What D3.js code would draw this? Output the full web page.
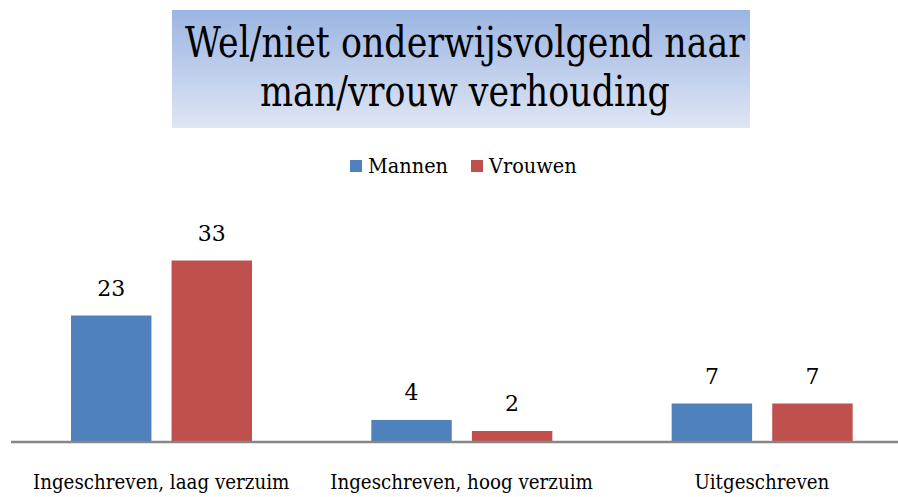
<!DOCTYPE html>
<html>
<head>
<meta charset="utf-8">
<script src="https://cdn.jsdelivr.net/npm/d3@7/dist/d3.min.js"></script>
<style>
  body { margin: 0; background: #fff; }
  svg { display: block; }
</style>
</head>
<body>
<svg id="chart" width="898" height="497"></svg>
<script>
var categories = ["Ingeschreven, laag verzuim", "Ingeschreven, hoog verzuim", "Uitgeschreven"];
var seriesNames = ["Mannen", "Vrouwen"];
var mannen = [23, 4, 7];
var vrouwen = [33, 2, 7];
var titleLines = ["Wel/niet onderwijsvolgend naar", "man/vrouw verhouding"];

var colors = {Mannen: "#4f81bd", Vrouwen: "#c0504d"};
var serif = "'DejaVu Serif', serif";

var svg = d3.select("#chart"),
    baseY = 442;

// DejaVu Serif is wider than the original Garamond-like face, squeeze it a bit
function squeeze(sel, f) {
  sel.each(function() {
    var w = this.getComputedTextLength();
    d3.select(this).attr("textLength", w * f).attr("lengthAdjust", "spacingAndGlyphs");
  });
}

// title box with gradient
var defs = svg.append("defs");
var grad = defs.append("linearGradient")
    .attr("id", "titleGrad")
    .attr("x1", 0).attr("y1", 0).attr("x2", 0).attr("y2", 1);
grad.append("stop").attr("offset", "0%").attr("stop-color", "#9bb5e2");
grad.append("stop").attr("offset", "100%").attr("stop-color", "#dfe6f4");

svg.append("rect")
    .attr("x", 172).attr("y", 10)
    .attr("width", 578).attr("height", 118)
    .attr("fill", "url(#titleGrad)");

var title = svg.selectAll(".title")
  .data(titleLines)
  .enter().append("text")
    .attr("class", "title")
    .attr("x", 465)
    .attr("y", function(d, i) { return 57 + i * 49; })
    .attr("text-anchor", "middle")
    .style("font-family", serif)
    .style("font-size", "42px")
    .text(function(d) { return d; });
squeeze(title, 0.83);

// legend
var legend = svg.append("g").attr("transform", "translate(350,160)");
var legendX = [0, 121];
seriesNames.forEach(function(name, i) {
  legend.append("rect")
      .attr("x", legendX[i]).attr("y", 0)
      .attr("width", 12).attr("height", 12)
      .attr("fill", colors[name]);
  var t = legend.append("text")
      .attr("x", legendX[i] + 18).attr("y", 13)
      .style("font-family", serif)
      .style("font-size", "21px")
      .text(name);
  squeeze(t, 0.92);
});

// scales
var x0 = d3.scaleBand().domain(categories).range([11, 912]).paddingInner(0).paddingOuter(0);
var x1 = d3.scaleBand().domain(seriesNames).range([60, 241]).paddingInner(0.2);
var y = d3.scaleLinear().domain([0, 35]).range([baseY, baseY - 35 * 5.5]);

var rows = categories.map(function(c, i) {
  return [{cat: c, name: "Mannen", value: mannen[i]}, {cat: c, name: "Vrouwen", value: vrouwen[i]}];
});

var groups = svg.selectAll(".grp")
  .data(rows)
  .enter().append("g")
    .attr("class", "grp")
    .attr("transform", function(d) { return "translate(" + x0(d[0].cat) + ",0)"; });

groups.selectAll("rect")
  .data(function(d) { return d; })
  .enter().append("rect")
    .attr("x", function(d) { return x1(d.name); })
    .attr("y", function(d) { return y(d.value); })
    .attr("width", x1.bandwidth())
    .attr("height", function(d) { return baseY - y(d.value); })
    .attr("fill", function(d) { return colors[d.name]; });

groups.selectAll(".val")
  .data(function(d) { return d; })
  .enter().append("text")
    .attr("class", "val")
    .attr("x", function(d) { return x1(d.name) + x1.bandwidth() / 2; })
    .attr("y", function(d) { return y(d.value) - 20; })
    .attr("text-anchor", "middle")
    .style("font-family", serif)
    .style("font-size", "22px")
    .text(function(d) { return d.value; });

// axis
var axis = svg.append("g")
    .attr("transform", "translate(0," + baseY + ")")
    .call(d3.axisBottom(x0).tickSize(0).tickPadding(32));
axis.attr("font-family", null);
axis.select(".domain").attr("stroke", "#868686").attr("stroke-width", 2.5)
    .attr("d", "M11,0H898");
var ticks = axis.selectAll(".tick text")
    .style("font-family", serif)
    .style("font-size", "21px")
    .attr("fill", "#000");
squeeze(ticks, 0.87);
</script>
</body>
</html>
